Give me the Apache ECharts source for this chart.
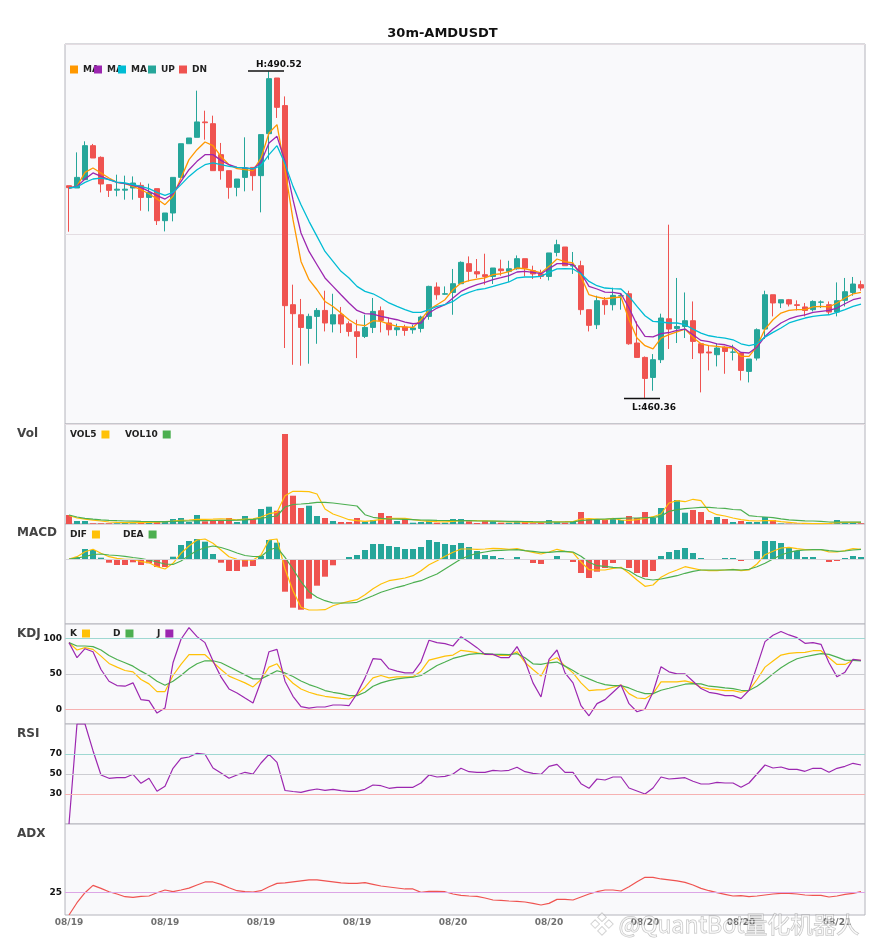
<!DOCTYPE html>
<html>
<head>
<meta charset="utf-8">
<title>30m-AMDUSDT</title>
<script src="https://cdn.jsdelivr.net/npm/echarts@6.0.0/dist/echarts.min.js"></script>
<style>
html,body{margin:0;padding:0;background:#fff;}
#chart{width:885px;height:950px;}
</style>
</head>
<body>
<div id="chart"></div>
<script>
// 30m bars, 08/19 00:00 -> 08/21 01:30
const times = [
  '08/19 00:00','08/19 00:30','08/19 01:00','08/19 01:30','08/19 02:00','08/19 02:30','08/19 03:00','08/19 03:30',
  '08/19 04:00','08/19 04:30','08/19 05:00','08/19 05:30','08/19 06:00','08/19 06:30','08/19 07:00','08/19 07:30',
  '08/19 08:00','08/19 08:30','08/19 09:00','08/19 09:30','08/19 10:00','08/19 10:30','08/19 11:00','08/19 11:30',
  '08/19 12:00','08/19 12:30','08/19 13:00','08/19 13:30','08/19 14:00','08/19 14:30','08/19 15:00','08/19 15:30',
  '08/19 16:00','08/19 16:30','08/19 17:00','08/19 17:30','08/19 18:00','08/19 18:30','08/19 19:00','08/19 19:30',
  '08/19 20:00','08/19 20:30','08/19 21:00','08/19 21:30','08/19 22:00','08/19 22:30','08/19 23:00','08/19 23:30',
  '08/20 00:00','08/20 00:30','08/20 01:00','08/20 01:30','08/20 02:00','08/20 02:30','08/20 03:00','08/20 03:30',
  '08/20 04:00','08/20 04:30','08/20 05:00','08/20 05:30','08/20 06:00','08/20 06:30','08/20 07:00','08/20 07:30',
  '08/20 08:00','08/20 08:30','08/20 09:00','08/20 09:30','08/20 10:00','08/20 10:30','08/20 11:00','08/20 11:30',
  '08/20 12:00','08/20 12:30','08/20 13:00','08/20 13:30','08/20 14:00','08/20 14:30','08/20 15:00','08/20 15:30',
  '08/20 16:00','08/20 16:30','08/20 17:00','08/20 17:30','08/20 18:00','08/20 18:30','08/20 19:00','08/20 19:30',
  '08/20 20:00','08/20 20:30','08/20 21:00','08/20 21:30','08/20 22:00','08/20 22:30','08/20 23:00','08/20 23:30',
  '08/21 00:00','08/21 00:30','08/21 01:00','08/21 01:30'
];

const opens = [
  479.96, 479.75, 480.52, 483.66, 482.58, 480.06, 479.55, 479.55, 479.75, 479.99,
  478.88, 479.69, 476.73, 477.44, 480.73, 483.84, 484.43, 485.85, 485.69, 482.83,
  481.35, 479.81, 480.73, 481.65, 480.89, 484.77, 489.91, 487.36, 468.97, 468.04,
  466.78, 467.89, 468.44, 467.19, 468.04, 467.21, 466.47, 466.04, 466.87, 468.41,
  467.28, 466.66, 466.91, 466.66, 466.78, 467.89, 470.60, 469.94, 470.10, 470.91,
  472.76, 472.02, 471.74, 471.58, 472.27, 472.05, 472.29, 473.22, 472.11, 471.81,
  471.58, 473.80, 474.30, 472.54, 472.57, 468.51, 467.12, 469.37, 468.97, 469.77,
  469.98, 465.43, 464.10, 462.25, 463.89, 467.67, 466.78, 466.96, 467.49, 465.36,
  464.60, 464.35, 465.06, 464.58, 464.51, 462.81, 464.04, 466.72, 469.89, 469.13,
  469.43, 468.97, 468.76, 468.51, 469.20, 468.97, 468.29, 469.37, 470.10, 470.82
];
const closes = [
  479.78, 480.73, 483.66, 482.52, 480.12, 479.53, 479.64, 479.64, 480.21, 478.88,
  479.34, 476.73, 477.44, 480.73, 483.84, 484.37, 485.85, 485.78, 481.35, 481.35,
  479.81, 480.58, 481.60, 480.89, 484.68, 489.85, 487.20, 468.88, 468.14, 466.87,
  467.89, 468.44, 467.28, 468.04, 467.19, 466.50, 466.04, 466.87, 468.35, 467.52,
  466.66, 466.84, 466.59, 466.82, 467.83, 470.66, 469.89, 469.98, 470.91, 472.88,
  472.05, 471.81, 471.58, 472.36, 472.11, 472.29, 473.22, 472.36, 471.81, 471.58,
  473.75, 474.51, 472.57, 472.60, 468.51, 467.06, 469.34, 468.97, 469.83, 469.80,
  465.36, 464.10, 462.16, 463.89, 467.74, 466.72, 466.96, 467.49, 465.58, 464.51,
  464.51, 464.97, 464.65, 464.60, 462.90, 463.95, 466.66, 469.89, 469.13, 469.43,
  469.03, 468.90, 468.44, 469.27, 469.22, 468.29, 469.34, 470.17, 470.88, 470.51
];
const lows = [
  475.71, 479.75, 480.52, 482.52, 479.34, 478.92, 478.98, 478.67, 478.67, 477.65,
  477.59, 476.33, 475.74, 476.67, 480.73, 483.84, 484.43, 484.21, 481.35, 480.52,
  478.76, 478.98, 479.44, 479.50, 477.50, 482.37, 486.22, 464.97, 463.42, 463.33,
  463.52, 465.36, 466.50, 466.41, 466.35, 466.04, 464.04, 465.89, 466.35, 466.41,
  466.13, 466.10, 466.10, 466.29, 466.41, 467.58, 469.43, 469.89, 468.04, 470.91,
  471.12, 471.44, 470.82, 470.88, 471.65, 471.07, 472.20, 471.58, 471.34, 471.34,
  471.21, 473.43, 472.57, 471.81, 468.04, 466.50, 466.72, 468.04, 468.44, 468.51,
  465.27, 464.10, 460.36, 461.02, 463.58, 464.88, 465.43, 465.89, 463.95, 460.87,
  462.90, 463.27, 462.59, 463.82, 461.97, 461.79, 463.82, 465.80, 467.89, 468.66,
  468.81, 468.44, 467.89, 468.35, 468.66, 468.04, 467.89, 468.81, 469.80, 470.26
];
const highs = [
  479.96, 483.04, 484.06, 483.82, 482.67, 480.06, 480.98, 480.89, 480.82, 480.27,
  480.15, 479.69, 477.44, 480.73, 483.84, 484.37, 488.74, 486.89, 486.43, 483.91,
  481.35, 480.58, 484.43, 481.65, 484.68, 490.52, 489.91, 488.21, 470.82, 469.50,
  468.14, 468.66, 470.26, 469.98, 468.76, 467.43, 467.58, 468.04, 469.59, 468.81,
  467.74, 467.21, 467.12, 467.12, 467.95, 470.72, 471.03, 470.66, 472.27, 472.97,
  473.43, 473.19, 473.68, 472.36, 473.13, 473.03, 473.52, 473.22, 472.57, 472.20,
  473.75, 474.97, 474.30, 473.84, 473.03, 468.51, 469.80, 469.68, 470.54, 470.05,
  470.26, 467.43, 464.19, 464.41, 468.14, 476.36, 471.44, 470.10, 469.27, 465.36,
  465.18, 465.36, 465.12, 465.27, 464.51, 463.95, 466.78, 470.26, 469.89, 469.43,
  469.50, 469.37, 469.13, 469.37, 469.37, 469.27, 471.03, 471.44, 471.53, 471.19
];

const ma5 = [
  479.75, 479.9, 481.19, 481.6, 481.14, 480.67, 480.27, 480.15, 479.9, 479.59,
  479.22, 478.73, 478.21, 478.98, 480.67, 482.37, 483.29, 484.0, 483.66, 482.67,
  481.9, 481.53, 481.44, 481.35, 482.52, 484.83, 485.6, 481.44, 476.82, 472.97,
  471.28, 470.35, 469.27, 468.81, 468.2, 467.58, 467.12, 467.03, 467.49, 467.43,
  467.18, 466.96, 466.91, 466.87, 467.58, 468.51, 468.97, 469.43, 470.35, 470.97,
  471.2, 471.34, 471.44, 471.74, 471.83, 472.02, 472.36, 472.29, 472.11, 471.9,
  472.51, 473.19, 472.94, 472.82, 471.58, 469.89, 469.68, 469.52, 469.61, 469.68,
  467.58, 465.89, 465.18, 464.88, 465.89, 466.2, 466.45, 466.72, 465.95, 465.36,
  465.18, 465.12, 465.02, 464.97, 464.19, 464.19, 465.12, 466.72, 467.58, 468.2,
  468.44, 468.51, 468.51, 468.76, 468.81, 468.76, 469.13, 469.59, 469.96, 470.1
];
const ma10 = [
  479.75, 479.9, 480.58, 481.14, 480.82, 480.52, 480.27, 480.15, 479.99, 479.81,
  479.44, 479.04, 478.73, 479.2, 480.36, 481.44, 482.21, 482.83, 482.83, 482.3,
  481.9, 481.65, 481.6, 481.51, 482.12, 483.91, 484.52, 482.21, 478.67, 475.59,
  473.89, 472.66, 471.44, 470.66, 469.89, 469.13, 468.44, 468.14, 468.11, 467.89,
  467.74, 467.58, 467.37, 467.21, 467.28, 468.2, 468.66, 468.97, 469.59, 470.2,
  470.55, 470.82, 471.03, 471.28, 471.46, 471.65, 471.99, 472.05, 471.95, 471.83,
  472.29, 472.76, 472.76, 472.66, 471.9, 470.66, 470.42, 470.14, 470.1, 469.98,
  468.66, 467.12, 466.04, 466.0, 466.3, 466.4, 466.59, 466.72, 466.2, 465.67,
  465.55, 465.36, 465.27, 465.06, 464.56, 464.51, 465.06, 466.04, 466.72, 467.28,
  467.65, 467.89, 468.04, 468.26, 468.35, 468.44, 468.66, 469.06, 469.43, 469.59
];
const ma20 = [
  479.75, 479.84, 480.27, 480.58, 480.67, 480.52, 480.3, 480.21, 480.06, 479.9,
  479.69, 479.34, 479.07, 479.34, 480.06, 480.82, 481.44, 481.9, 482.06, 481.9,
  481.75, 481.65, 481.6, 481.51, 481.81, 482.83, 483.66, 482.0, 479.9, 478.21,
  476.67, 475.28, 473.89, 472.97, 472.05, 471.44, 470.66, 470.2, 469.98, 469.59,
  469.13, 468.81, 468.51, 468.26, 468.26, 468.51, 468.81, 468.97, 469.27, 469.8,
  470.1, 470.35, 470.45, 470.66, 470.88, 471.07, 471.44, 471.53, 471.53, 471.58,
  471.95, 472.27, 472.29, 472.27, 471.83, 471.12, 470.72, 470.51, 470.45, 470.42,
  469.73, 468.81, 467.95, 467.43, 467.37, 467.28, 467.28, 467.12, 466.72, 466.35,
  466.1, 465.98, 465.89, 465.73, 465.36, 465.18, 465.36, 465.98, 466.41, 466.82,
  467.28, 467.52, 467.74, 467.89, 467.98, 468.04, 468.26, 468.51, 468.81, 469.03
];

const volumes = [
  900, 300, 300, 70, 70, 70, 70, 200, 70, 130,
  130, 300, 300, 500, 600, 200, 900, 270, 400, 400,
  600, 200, 800, 500, 1500, 1730, 1330, 9000, 2830, 1600,
  1830, 800, 600, 300, 200, 200, 600, 230, 400, 1100,
  800, 300, 500, 130, 200, 330, 130, 130, 500, 500,
  270, 100, 300, 270, 130, 130, 200, 200, 70, 130,
  400, 200, 130, 300, 1200, 500, 500, 400, 500, 400,
  800, 600, 1200, 600, 1600, 5900, 2400, 1130, 1400, 1200,
  400, 700, 500, 200, 300, 200, 200, 700, 400, 50,
  30, 30, 100, 30, 30, 100, 400, 200, 130, 70
];
const vol5 = [
  850, 600, 480, 380, 300, 200, 160, 140, 130, 140,
  150, 190, 230, 280, 360, 400, 460, 470, 480, 510,
  500, 420, 480, 520, 700, 1030, 1170, 2830, 3270, 3270,
  3230, 3000, 1500, 1000, 730, 430, 330, 270, 330, 470,
  570, 570, 570, 430, 330, 270, 240, 220, 260, 330,
  350, 330, 320, 300, 230, 200, 200, 180, 170, 160,
  200, 220, 230, 250, 500, 530, 500, 430, 570, 400,
  370, 430, 570, 730, 1000, 2100, 2330, 2230, 2470, 2330,
  1270, 930, 800, 600, 430, 330, 300, 330, 330, 230,
  170, 100, 70, 40, 40, 70, 130, 170, 170, 170
];
const vol10 = [
  900, 700, 560, 480, 420, 370, 330, 300, 280, 260,
  250, 240, 240, 250, 280, 300, 330, 340, 350, 360,
  370, 380, 420, 470, 560, 700, 800, 1700, 1950, 2000,
  2070, 2170, 2170, 2100, 2000, 1900, 1800, 930, 670, 570,
  500, 480, 460, 430, 400, 380, 360, 350, 350, 330,
  330, 300, 300, 290, 280, 270, 260, 250, 230, 220,
  210, 200, 200, 220, 330, 400, 470, 500, 530, 570,
  600, 600, 630, 670, 770, 1270, 1430, 1530, 1600, 1670,
  1670, 1600, 1570, 1450, 1410, 840, 750, 700, 640, 520,
  420, 370, 320, 300, 270, 200, 200, 200, 200, 190
];

const dif = [
  0, 0.23, 0.73, 0.97, 0.57, 0.23, 0.07, -0.03, -0.03, -0.27,
  -0.37, -0.77, -1.0, -0.43, 0.57, 1.3, 1.9, 2.0, 1.57, 0.9,
  0.23, -0.03, -0.1, -0.1, 0.4, 1.9, 2.0, -1.0, -3.17, -4.83,
  -5.1, -5.1, -5.07, -4.67, -4.43, -4.23, -4.07, -3.57, -2.97, -2.5,
  -2.17, -2.03, -1.9, -1.67, -1.17, -0.57, -0.17, 0.27, 0.67, 1.0,
  1.0, 0.97, 1.0, 1.07, 1.03, 0.97, 1.03, 0.83, 0.67, 0.5,
  0.7, 0.97, 0.77, 0.63, -0.3, -1.07, -1.1, -1.1, -0.93, -0.83,
  -1.43, -2.1, -2.73, -2.6, -1.83, -1.4, -1.1, -0.77, -0.93, -1.1,
  -1.17, -1.17, -1.1, -1.03, -1.17, -1.1, -0.5, 0.43, 0.77, 1.1,
  1.17, 1.03, 0.93, 0.93, 0.93, 0.7, 0.7, 0.83, 1.03, 0.97
];
const dea = [
  0, 0.1, 0.23, 0.45, 0.5, 0.4, 0.35, 0.27, 0.15, 0.05,
  -0.1, -0.3, -0.5, -0.55, -0.2, 0.35, 0.85, 1.13, 1.3, 1.15,
  0.9, 0.6, 0.35, 0.25, 0.25, 0.9, 1.15, 0.17, -1.0, -2.27,
  -3.27, -3.83, -4.17, -4.4, -4.4, -4.4, -4.33, -4.0, -3.67, -3.33,
  -3.07, -2.83, -2.63, -2.37, -2.17, -1.83, -1.5, -1.0, -0.5, 0,
  0.33, 0.57, 0.7, 0.83, 0.87, 0.9, 0.93, 0.83, 0.77, 0.67,
  0.67, 0.73, 0.77, 0.7, 0.28, -0.33, -0.67, -0.73, -0.83, -0.9,
  -1.17, -1.67, -2.0, -2.1, -2.0, -1.83, -1.67, -1.43, -1.23, -1.1,
  -1.1, -1.1, -1.1, -1.07, -1.1, -1.03, -0.77, -0.43, 0, 0.4,
  0.67, 0.83, 0.9, 0.93, 0.93, 0.83, 0.77, 0.8, 0.9, 0.97
];
const macdHist = [
  0, 0.2, 1.0, 0.9, 0.13, -0.37, -0.6, -0.6, -0.33, -0.6,
  -0.43, -0.8, -0.8, 0.23, 1.4, 1.8, 2.0, 1.73, 0.5, -0.37,
  -1.2, -1.2, -0.77, -0.7, 0.3, 1.9, 1.63, -3.27, -4.87, -5.07,
  -3.97, -2.67, -1.77, -0.63, -0.07, 0.2, 0.4, 0.9, 1.5, 1.5,
  1.3, 1.2, 1.0, 1.0, 1.2, 1.9, 1.7, 1.5, 1.4, 1.6,
  1.2, 0.8, 0.4, 0.3, 0.1, 0, 0.2, -0.1, -0.4, -0.5,
  0, 0.3, -0.1, -0.3, -1.4, -1.9, -1.27, -0.9, -0.4, 0,
  -0.9, -1.4, -1.8, -1.2, 0.3, 0.7, 0.9, 1.1, 0.6, 0.1,
  -0.1, 0, 0.1, 0.1, -0.2, 0, 0.8, 1.8, 1.8, 1.6,
  1.1, 0.8, 0.2, 0.2, 0, -0.3, -0.2, 0.1, 0.3, 0.2
];

const kLine = [
  93.9, 83.6, 86.9, 84.5, 75, 64.8, 59.6, 54.9, 53, 42.3,
  36.2, 25.4, 25.4, 47.9, 63.4, 77, 77, 77, 66.7, 56.3,
  47, 42.3, 37.6, 31.9, 42.3, 59.6, 64.3, 48, 37, 29,
  24.4, 21.1, 18.8, 17.4, 16, 15, 21.1, 31.5, 44.6, 47.9,
  44.6, 46, 46, 46, 54, 69.5, 72.3, 75.1, 76.5, 83.1,
  81.7, 79.8, 77.5, 77, 76, 76, 81.2, 66.2, 56.3, 47,
  68.1, 72.8, 61, 51.6, 37.6, 26.8, 27.7, 28.2, 31.5, 34.7,
  22.5, 16.4, 15.5, 22.5, 39, 39, 39, 40.4, 37.6, 31.5,
  29.1, 28.2, 26.8, 26.8, 24.4, 27.2, 42.3, 59.6, 68.1, 76.5,
  78.9, 79.8, 80.3, 82.6, 82.6, 72.8, 63.4, 63.4, 69.5, 69
];
const dLine = [
  93.9, 89.2, 89.2, 88.3, 83.6, 76, 70.4, 65.7, 61, 54,
  47.9, 39.9, 34.3, 39.9, 47.9, 57.3, 64.3, 68.5, 68.5, 65.7,
  60.1, 54.5, 48.8, 43.2, 43.2, 48.8, 54.5, 51.5, 46.5, 40.3,
  35.2, 31.5, 26.8, 24.4, 22.5, 19.7, 19.7, 24.4, 32.9, 37.6,
  40.8, 43.2, 44.6, 45.5, 47.9, 54.9, 62, 66.7, 71.8, 74.6,
  77.5, 78.4, 78.4, 77.9, 77.5, 77, 78.4, 72.8, 64.3, 63.4,
  65.7, 66.7, 61, 55, 48, 43.2, 38.5, 35.2, 33.8, 33.8,
  30.5, 25.8, 22.5, 22.5, 27.2, 30, 32.9, 35.7, 36.6, 36.2,
  32.9, 31.9, 30.5, 29.6, 27.2, 26.8, 32.9, 40.8, 50.2, 58.7,
  65.7, 71.4, 74.2, 76.5, 78.4, 77.5, 73.7, 69.5, 69, 68.5
];
const jLine = [
  93.9, 72.8, 85.4, 81.2, 56.3, 39.9, 33.8, 32.9, 37.6, 14.1,
  12.7, -4.7, 2.3, 65.7, 98.6, 115, 102.3, 93.9, 68.1, 46,
  29.1, 23.5, 16.4, 9.4, 39.9, 81.2, 84.5, 39.9, 18.8, 4.2,
  2.3, 3.8, 3.8, 6.6, 6.6, 5.6, 22.5, 44.6, 71.4, 70.4,
  57.3, 54, 51.6, 51.6, 67.1, 97.2, 93.9, 92.5, 89.2, 102.3,
  94.8, 86.9, 77.5, 77.5, 72.8, 72.8, 88.3, 68.1, 37.6, 17.8,
  70.4, 83.6, 51.6, 37.6, 5.6, -8.5, 8.5, 14.1, 24.4, 34.7,
  8.5, -2.8, 0.9, 24.4, 60.1, 53, 50.2, 50.2, 39.9, 29.6,
  24.4, 22.5, 19.7, 19.7, 15.5, 27.2, 61, 95.3, 104.2, 109.4,
  104.7, 100.9, 93, 93.9, 91.5, 65.7, 46, 52.6, 70.4, 69
];

const rsi = [
  0, 100, 100, 73.3, 49, 45.7, 46.3, 46.3, 49.7, 40.7,
  45.7, 32.7, 37.7, 55.7, 65.7, 67, 70.7, 69.7, 56, 51,
  45.7, 49, 51.7, 50, 61, 69.7, 61.7, 33.5, 32.5, 31.7,
  33.7, 35, 33.7, 34.7, 33.3, 32.7, 32.7, 34.7, 39, 38.3,
  35.7, 36.7, 36.7, 36.7, 41, 49, 47, 47.7, 50, 55.7,
  52.3, 51.7, 51.7, 53.7, 53, 53.7, 56.7, 52.3, 50.7, 49.7,
  57.7, 59.7, 51.7, 51.7, 40.3, 35.7, 45, 44, 47, 47,
  36, 33, 30, 36, 47, 45, 45.7, 46.3, 42.7, 40,
  40, 41.7, 41, 41, 36.7, 41, 50, 59, 56, 57,
  54.7, 54.7, 52.7, 55.7, 55.7, 51.7, 55.7, 57.7, 60.7, 59
];
const adx = [
  0, 13.5, 24.5, 32.6, 29.3, 25.6, 23.1, 20.1, 19.4, 20.5,
  20.9, 24.5, 27.5, 25.6, 27.5, 29.5, 33, 36.3, 36.3, 33.7,
  30, 26.7, 25.6, 25.3, 26.7, 31.1, 34.8, 35.2, 36.3, 37.4,
  38.5, 38.5, 37.4, 36.3, 35.2, 34.8, 34.8, 35.5, 33.7, 31.9,
  30.8, 29.7, 28.6, 28.6, 24.9, 26, 26, 25.6, 23.1, 21.6,
  20.9, 20.5, 18.7, 16.5, 16.1, 15.4, 15, 14.3, 12.8, 11,
  12.8, 17.2, 17.2, 16.5, 19.8, 23.1, 25.6, 27.5, 27.5, 26.4,
  31.1, 36.6, 41.4, 41.4, 39.6, 38.5, 37.4, 35.9, 33, 29.3,
  26.7, 24.5, 22.7, 20.9, 21.2, 20.1, 20.9, 22, 23.1, 23.8,
  23.8, 23.1, 22, 21.6, 21.6, 19.8, 20.9, 22.7, 23.8, 25.6
];

const kdjTicks = [0, 50, 100];
const rsiTicks = [30, 50, 70];
const adxTicks = [25];

const UP = '#26a69a';
const DN = '#ef5350';
const FONT = 'DejaVu Sans';

const candles = opens.map((o, i) => [o, closes[i], lows[i], highs[i]]);
const volBars = volumes.map((v, i) => ({ value: v, itemStyle: { color: closes[i] >= opens[i] ? UP : DN } }));
const macdBars = macdHist.map(v => ({ value: v, itemStyle: { color: v >= 0 ? UP : DN } }));

const hiVal = Math.max(...highs), loVal = Math.min(...lows);
const marks = [
  { idx: highs.indexOf(hiVal), val: hiVal, text: 'H:' + hiVal.toFixed(2), top: true },
  { idx: lows.indexOf(loVal), val: loVal, text: 'L:' + loVal.toFixed(2), top: false }
];

const gridTops = [44, 424, 524, 624, 724, 824];
const gridHeights = [380, 100, 100, 100, 100, 91];

const labelStyle = { color: '#111', fontWeight: 'bold', fontSize: 9, fontFamily: FONT, margin: 3 };

function yAx(i, min, max, ticks) {
  return {
    type: 'value', gridIndex: i, min: min, max: max,
    axisLine: { show: false }, axisTick: { show: false }, splitLine: { show: false },
    axisLabel: ticks ? Object.assign({ customValues: ticks }, labelStyle) : { show: false }
  };
}

function line(name, xi, data, color, width) {
  return {
    name: name, type: 'line', xAxisIndex: xi, yAxisIndex: xi, data: data,
    symbol: 'none', showSymbol: false, color: color,
    lineStyle: { color: color, width: width || 1.2 }, z: 3, silent: true
  };
}

function guides(list) {
  return {
    silent: true, symbol: 'none', label: { show: false },
    lineStyle: { type: 'solid', width: 1 },
    data: list.map(g => ({ yAxis: g[0], lineStyle: { color: g[1], type: 'solid', width: 1 } }))
  };
}

const legendText = { fontFamily: FONT, fontSize: 9, fontWeight: 'bold', color: '#222' };
function lg(name, left, top, extra) {
  return Object.assign({
    data: [name], left: left, top: top, padding: 0, itemWidth: 8, itemHeight: 8,
    icon: 'rect', selectedMode: false, textStyle: legendText
  }, extra || {});
}
const maOnly = { formatter: () => 'MA' };
function rightLg(w) { return { align: 'right', textStyle: Object.assign({ width: w }, legendText) }; }

const panelTitle = { fontFamily: FONT, fontSize: 12, fontWeight: 'bold', color: '#444' };

const chart = echarts.init(document.getElementById('chart'));
chart.setOption({
  animation: false,
  backgroundColor: '#fff',
  title: [
    { text: '30m-AMDUSDT', left: 'center', top: 27, padding: 0,
      textStyle: { fontFamily: FONT, fontSize: 13, fontWeight: 'bold', color: '#111' } },
    { text: 'Vol', left: 17, top: 428, padding: 0, textStyle: panelTitle },
    { text: 'MACD', left: 17, top: 527, padding: 0, textStyle: panelTitle },
    { text: 'KDJ', left: 17, top: 628, padding: 0, textStyle: panelTitle },
    { text: 'RSI', left: 17, top: 728, padding: 0, textStyle: panelTitle },
    { text: 'ADX', left: 17, top: 828, padding: 0, textStyle: panelTitle }
  ],
  legend: [
    lg('MA5', 70, 65, maOnly), lg('MA10', 94, 65, maOnly), lg('MA20', 118, 65, maOnly),
    lg('UP', 148, 65), lg('DN', 179, 65),
    lg('VOL5', 70, 430, rightLg(26)), lg('VOL10', 125, 430, rightLg(33)),
    lg('DIF', 70, 530, rightLg(22)), lg('DEA', 123, 530, rightLg(25)),
    lg('K', 70, 629, rightLg(12)), lg('D', 113, 629, rightLg(13)), lg('J', 157, 629, rightLg(13))
  ],
  grid: gridTops.map((t, i) => ({
    left: 65, width: 800, top: t, height: gridHeights[i],
    show: true, backgroundColor: '#f9f9fb', borderColor: '#b4b4bc', borderWidth: 1
  })),
  xAxis: gridTops.map((t, i) => ({
    type: 'category', gridIndex: i, data: times, boundaryGap: true,
    axisLine: { show: false }, axisTick: { show: false }, splitLine: { show: false },
    axisLabel: {
      show: i === 5, interval: 11, formatter: v => v.slice(0, 5),
      color: '#707070', fontWeight: 'bold', fontSize: 9, fontFamily: FONT, margin: 3
    }
  })),
  yAxis: [
    {
      type: 'value', gridIndex: 0, min: 457.95, max: 493.05, interval: 17.55,
      axisLine: { show: false }, axisTick: { show: false }, axisLabel: { show: false },
      splitLine: { show: true, lineStyle: { color: '#e4dde2', width: 1 } }
    },
    yAx(1, 0, 10000),
    yAx(2, -6.5, 3.5),
    yAx(3, -20, 120, kdjTicks),
    yAx(4, 0, 100, rsiTicks),
    yAx(5, 0, 100, adxTicks)
  ],
  graphic: [
    {
      type: 'text', left: 590, top: 912, z: 100, silent: true,
      style: {
        text: '❖ @QuantBot量化机器人', font: '23px "Noto Sans CJK SC"',
        fill: 'rgba(255,255,255,0.6)', stroke: 'rgba(110,110,110,0.45)', lineWidth: 1
      }
    }
  ],
  series: [
    {
      name: 'KLine', type: 'candlestick', xAxisIndex: 0, yAxisIndex: 0, data: candles,
      barWidth: 6, silent: true,
      itemStyle: { color: UP, color0: DN, borderColor: UP, borderColor0: DN, borderWidth: 1 }
    },
    line('MA5', 0, ma5, '#ff9800', 1.3),
    line('MA10', 0, ma10, '#9c27b0', 1.3),
    line('MA20', 0, ma20, '#00bcd4', 1.3),
    { name: 'UP', type: 'line', xAxisIndex: 0, yAxisIndex: 0, data: [], color: UP },
    { name: 'DN', type: 'line', xAxisIndex: 0, yAxisIndex: 0, data: [], color: DN },
    {
      type: 'custom', xAxisIndex: 0, yAxisIndex: 0, z: 10, silent: true, clip: false,
      data: marks.map(m => [m.idx, m.val]),
      renderItem: function (params, api) {
        const m = marks[params.dataIndex];
        const p = api.coord([api.value(0), api.value(1)]);
        const ly = m.top ? p[1] - 0.5 : p[1] + 0.5;
        return {
          type: 'group',
          children: [
            { type: 'line', shape: { x1: p[0] - 21, y1: ly, x2: p[0] + 15, y2: ly },
              style: { stroke: '#111', lineWidth: 1.5 } },
            { type: 'text', style: {
                text: m.text, x: p[0] - 13, y: m.top ? ly - 6.5 : ly + 9.5,
                fill: '#111', font: 'bold 9px "DejaVu Sans"', verticalAlign: 'middle', align: 'left' } }
          ]
        };
      }
    },
    { name: 'Volume', type: 'bar', xAxisIndex: 1, yAxisIndex: 1, data: volBars, barWidth: 6, silent: true },
    line('VOL5', 1, vol5, '#ffc107'),
    line('VOL10', 1, vol10, '#4caf50'),
    {
      name: 'MACD', type: 'bar', xAxisIndex: 2, yAxisIndex: 2, data: macdBars, barWidth: 6, silent: true,
      markLine: guides([[0, '#d6d6da']])
    },
    line('DIF', 2, dif, '#ffc107'),
    line('DEA', 2, dea, '#4caf50'),
    Object.assign(line('K', 3, kLine, '#ffc107'), {
      markLine: guides([[100, '#9fd8d2'], [50, '#cdcdd2'], [0, '#f6b2b2']])
    }),
    line('D', 3, dLine, '#4caf50'),
    line('J', 3, jLine, '#9c27b0'),
    Object.assign(line('RSI', 4, rsi, '#9c27b0'), {
      markLine: guides([[70, '#9fd8d2'], [50, '#cdcdd2'], [30, '#f6b2b2']])
    }),
    Object.assign(line('ADX', 5, adx, '#ef5350'), {
      markLine: guides([[25, '#dca6e6']])
    })
  ]
});
</script>
</body>
</html>
